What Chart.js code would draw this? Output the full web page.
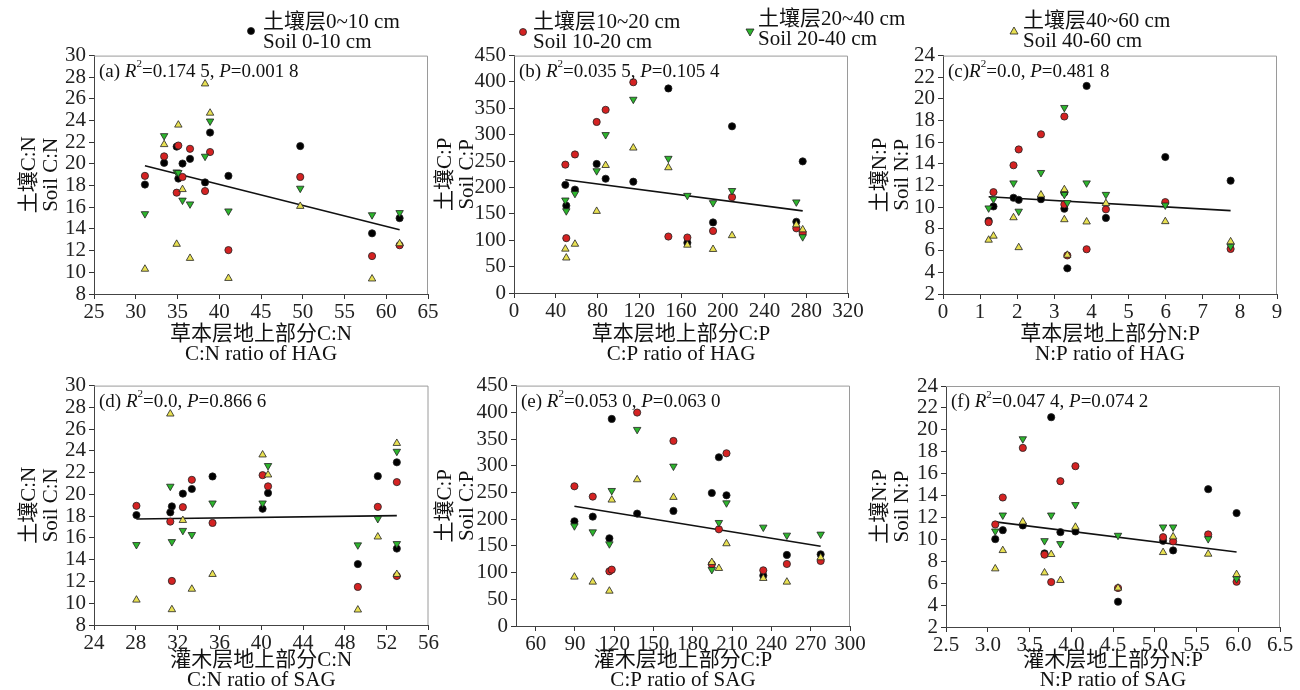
<!DOCTYPE html>
<html>
<head>
<meta charset="utf-8">
<script src="https://cdn.jsdelivr.net/npm/chart.js@4"></script>
<style>
  body { margin: 0; background: #fff; }
  #fig { position: relative; width: 1300px; height: 690px; background: #fff; overflow: hidden; }
  #fig canvas { position: absolute; }
  .leg { position: absolute; font: 21px/20px 'Liberation Serif', 'Noto Sans CJK SC', serif; color: #111; white-space: nowrap; }
  .mk { position: absolute; }
</style>
</head>
<body>
<div id="fig">
  <canvas id="ca" width="440" height="328" style="left:0px;top:40px"></canvas>
  <canvas id="cb" width="440" height="328" style="left:430px;top:40px"></canvas>
  <canvas id="cc" width="440" height="328" style="left:860px;top:40px"></canvas>
  <canvas id="cd" width="440" height="320" style="left:0px;top:370px"></canvas>
  <canvas id="ce" width="440" height="320" style="left:430px;top:370px"></canvas>
  <canvas id="cf" width="440" height="320" style="left:860px;top:370px"></canvas>

  <svg class="mk" style="left:246px;top:26px" width="10" height="10"><circle cx="5" cy="5" r="3.5" fill="#000" stroke="#222" stroke-width="0.8"/></svg>
  <div class="leg" style="left:263px;top:11px">土壤层0~10 cm<br>Soil 0-10 cm</div>
  <svg class="mk" style="left:518px;top:27px" width="10" height="10"><circle cx="5" cy="5" r="3.5" fill="#d42222" stroke="#222" stroke-width="0.8"/></svg>
  <div class="leg" style="left:533px;top:11px">土壤层10~20 cm<br>Soil 10-20 cm</div>
  <svg class="mk" style="left:745px;top:27px" width="10" height="10"><polygon points="1,2 9,2 5,9" fill="#2db52d" stroke="#222" stroke-width="0.8"/></svg>
  <div class="leg" style="left:758px;top:8px">土壤层20~40 cm<br>Soil 20-40 cm</div>
  <svg class="mk" style="left:1009px;top:26px" width="10" height="10"><polygon points="1,8 9,8 5,1" fill="#e8e052" stroke="#222" stroke-width="0.8"/></svg>
  <div class="leg" style="left:1023px;top:10px">土壤层40~60 cm<br>Soil 40-60 cm</div>
</div>
<script>
// (a) herb C:N vs soil C:N
const aX   = [31.1, 33.4, 34.9, 35.1, 35.6, 36.5, 38.3, 38.9, 41.1, 49.7, 58.3, 61.6];
const aS0  = [18.1, 20.1, 21.6, 18.65, 20.04, 20.47, 18.3, 22.9, 18.9, 21.65, 13.6, 15.0];
const aS10 = [18.9, 20.7, 17.35, 21.7, 18.8, 21.4, 17.5, 21.1, 12.05, 18.8, 11.5, 12.5];
const aS20 = [15.4, 22.6, 19.25, 19.2, 16.65, 16.3, 20.7, 23.95, 15.65, 17.75, 15.3, 15.5];
const aS40 = [10.3, 21.8, 12.6, 23.6, 17.65, 11.3, 27.4, 24.7, 9.45, 16.1, 9.4, 12.65];
const aFitX = [31.1, 61.6];
const aFitY = [19.83, 13.93];

// (b) herb C:P vs soil C:P
const bX   = [49.2, 50.1, 58.4, 79.2, 87.8, 114.3, 147.9, 166.1, 190.7, 208.9, 270.5, 276.6];
const bS0  = [205, 165.5, 196, 244.6, 216.6, 211, 387.7, 95.2, 133.8, 316, 135, 249.5];
const bS10 = [243.3, 104, 262.6, 324.2, 347.2, 399.5, 107, 105.2, 117.6, 181.7, 122.6, 113.9];
const bS20 = [176, 155.6, 188.5, 231.5, 300, 367, 255, 184.8, 171, 194, 172.4, 106.4];
const bS40 = [83.4, 66.6, 92.7, 155, 242, 275, 237.7, 90.9, 82.8, 108.9, 129.4, 120];
const bFitX = [49.2, 276.6];
const bFitY = [214.7, 155.6];

// (c) herb N:P vs soil N:P
const cX   = [1.23, 1.36, 1.9, 2.04, 2.64, 3.27, 3.27, 3.35, 3.87, 4.39, 5.99, 7.75];
const cS0  = [8.75, 10.08, 10.88, 10.69, 10.75, 11.36, 9.87, 4.37, 21.2, 9.02, 14.64, 12.46];
const cS10 = [8.63, 11.4, 13.88, 15.34, 16.74, 18.38, 10.27, 5.56, 6.13, 9.81, 10.48, 6.16];
const cS20 = [9.93, 10.75, 12.24, 9.63, 13.2, 19.2, 11.18, 10.42, 12.24, 11.18, 10.2, 6.4];
const cS40 = [6.98, 7.35, 9.05, 6.29, 11.15, 11.64, 8.87, 5.59, 8.66, 10.36, 8.69, 6.83];
const cFitX = [1.23, 7.75];
const cFitY = [10.97, 9.69];

// (d) shrub C:N vs soil C:N
const dX   = [28.06, 31.3, 31.45, 32.5, 33.36, 35.34, 40.13, 40.65, 49.24, 51.15, 52.97, 52.97];
const dS0  = [18.1, 18.35, 18.9, 20.07, 20.5, 21.65, 18.68, 20.13, 13.6, 21.68, 22.95, 15.02];
const dS10 = [18.95, 17.5, 12.05, 18.83, 21.34, 17.38, 21.77, 20.74, 11.5, 18.86, 21.13, 12.5];
const dS20 = [15.38, 20.74, 15.65, 16.68, 16.3, 19.2, 19.2, 22.64, 15.35, 17.77, 23.95, 15.47];
const dS40 = [10.3, 27.4, 9.42, 17.62, 11.3, 12.66, 23.64, 21.8, 9.39, 16.1, 24.7, 12.66];
const dFitX = [28.06, 52.97];
const dFitY = [17.74, 18.05];

// (e) shrub C:P vs soil C:P
const eX   = [89.6, 103.6, 116.3, 118.1, 137.5, 165.2, 194.5, 199.9, 205.7, 233.8, 251.8, 277.6];
const eS0  = [196, 204.7, 164.2, 387.6, 210.4, 215.4, 249, 315.9, 244.7, 94.3, 133, 134.2];
const eS10 = [261.5, 242.2, 102.4, 105.5, 399.5, 346.4, 115.5, 181, 323.3, 104.2, 116.1, 121.7];
const eS20 = [187.3, 176, 153.6, 253.4, 367.7, 299, 105.5, 193.5, 230.3, 184.8, 169.8, 171.7];
const eS40 = [91.8, 82.4, 65.5, 236, 274, 241, 119.2, 108, 154.2, 89.3, 82.4, 128];
const eFitX = [89.6, 277.6];
const eFitY = [224, 149.2];
const eXTicks = [60, 90, 120, 150, 180, 210, 240, 270, 300];

// (f) shrub N:P vs soil N:P
const fX   = [3.09, 3.18, 3.42, 3.68, 3.76, 3.87, 4.05, 4.56, 5.1, 5.22, 5.64, 5.98];
const fS0  = [10.02, 10.84, 11.27, 8.72, 21.15, 10.66, 10.72, 4.31, 9.87, 8.99, 14.58, 12.4];
const fS10 = [11.36, 13.82, 18.35, 8.6, 6.1, 15.31, 16.68, 5.56, 10.2, 9.81, 10.45, 6.13];
const fS20 = [10.75, 12.21, 19.17, 9.87, 12.21, 9.6, 13.16, 10.36, 11.12, 11.12, 10.05, 6.4];
const fS40 = [7.32, 8.99, 11.6, 6.95, 8.63, 6.26, 11.12, 5.56, 8.81, 10.24, 8.66, 6.8];
const fFitX = [3.09, 5.98];
const fFitY = [11.6, 8.84];

const FONT = "'Liberation Serif', 'Noto Sans CJK SC', serif";

function pts(xs, ys) {
  return xs.map((x, i) => ({ x: x, y: ys[i] }));
}

// gray frame on top and right side
const framePlugin = {
  id: 'frame',
  beforeDatasetsDraw(chart) {
    const a = chart.chartArea, ctx = chart.ctx;
    ctx.save();
    ctx.strokeStyle = '#9a9a9a';
    ctx.lineWidth = 1;
    ctx.beginPath();
    ctx.moveTo(a.left, a.top + 0.5);
    ctx.lineTo(a.right - 0.5, a.top + 0.5);
    ctx.lineTo(a.right - 0.5, a.bottom);
    ctx.stroke();
    ctx.restore();
  }
};

// "(a) R²=..., P=..." text in the corner
const notePlugin = {
  id: 'note',
  afterDatasetsDraw(chart, args, opts) {
    if (!opts.tag) return;
    const ctx = chart.ctx;
    let x = chart.chartArea.left + 5;
    const y = chart.chartArea.top + 16;
    const parts = [
      [opts.tag, 'normal', 19, 0],
      ['R', 'italic', 19, 0],
      ['2', 'normal', 11, -7],
      ['=' + opts.r2 + ', ', 'normal', 19, 0],
      ['P', 'italic', 19, 0],
      ['=' + opts.p, 'normal', 19, 0]
    ];
    ctx.save();
    ctx.fillStyle = '#111';
    ctx.textBaseline = 'middle';
    ctx.textAlign = 'left';
    parts.forEach(pt => {
      ctx.font = pt[1] + ' ' + pt[2] + 'px ' + FONT;
      ctx.fillText(pt[0], x, y + pt[3]);
      x += ctx.measureText(pt[0]).width;
    });
    ctx.restore();
  }
};

function makeChart(id, p) {
  const mark = (data, style, rot, color, r, ord) => ({
    data: data,
    pointStyle: style,
    rotation: rot,
    pointRadius: r,
    pointBackgroundColor: color,
    pointBorderColor: '#222',
    pointBorderWidth: 0.8,
    showLine: false,
    order: ord
  });
  const tickFont = { family: FONT, size: 21 };
  new Chart(document.getElementById(id), {
    type: 'scatter',
    data: {
      datasets: [
        {
          type: 'line',
          data: pts(p.fitX, p.fitY),
          borderColor: '#111',
          borderWidth: 1.6,
          pointRadius: 0,
          fill: false,
          order: 5
        },
        mark(pts(p.x, p.s0), 'circle', 0, '#000', 3.6, 4),
        mark(pts(p.x, p.s10), 'circle', 0, '#d42222', 3.6, 3),
        mark(pts(p.x, p.s20), 'triangle', 180, '#2db52d', 4.3, 2),
        mark(pts(p.x, p.s40), 'triangle', 0, '#e8e052', 4.3, 1)
      ]
    },
    options: {
      responsive: false,
      animation: false,
      devicePixelRatio: 1,
      events: [],
      layout: { padding: { top: p.padTop, right: p.padRight, left: 0, bottom: 0 } },
      plugins: {
        legend: { display: false },
        tooltip: { enabled: false },
        note: { tag: p.tag, r2: p.r2, p: p.p }
      },
      scales: {
        x: {
          type: 'linear',
          min: p.xMin, max: p.xMax,
          ticks: {
            stepSize: p.xStep, autoSkip: false, maxRotation: 0,
            font: tickFont, color: '#222', padding: 1,
            callback: p.xFmt || (v => v)
          },
          afterBuildTicks: p.xTicks ? (s => { s.ticks = p.xTicks.map(v => ({ value: v })); }) : undefined,
          grid: { drawOnChartArea: false, drawTicks: true, tickLength: 5, color: '#333' },
          border: { color: '#444', width: 1 },
          title: {
            display: true, text: p.xTitle, color: '#111',
            font: { family: FONT, size: 21, lineHeight: 0.95 },
            padding: { top: 0, bottom: p.xTitlePad }
          },
          afterFit: s => { s.height = p.xH; }
        },
        y: {
          type: 'linear',
          min: p.yMin, max: p.yMax,
          ticks: { stepSize: p.yStep, autoSkip: false, font: tickFont, color: '#222', padding: 3 },
          grid: { drawOnChartArea: false, drawTicks: true, tickLength: 5, color: '#333' },
          border: { color: '#444', width: 1 },
          title: {
            display: true, text: p.yTitle, color: '#111',
            font: { family: FONT, size: 21, lineHeight: 1.05 },
            padding: { top: p.yTitlePad, bottom: 0 }
          },
          afterFit: s => { s.width = p.yW; }
        }
      }
    },
    plugins: [framePlugin, notePlugin]
  });
}

makeChart('ca', {
  x: aX, s0: aS0, s10: aS10, s20: aS20, s40: aS40, fitX: aFitX, fitY: aFitY,
  xMin: 25, xMax: 65, xStep: 5, yMin: 8, yMax: 30, yStep: 2,
  xTitle: ['草本层地上部分C:N', 'C:N ratio of HAG'], yTitle: ['土壤C:N', 'Soil C:N'],
  tag: '(a) ', r2: '0.174 5', p: '0.001 8',
  padTop: 12, padRight: 12, yW: 94, xH: 74, xTitlePad: 4, yTitlePad: 18
});
makeChart('cb', {
  x: bX, s0: bS0, s10: bS10, s20: bS20, s40: bS40, fitX: bFitX, fitY: bFitY,
  xMin: 0, xMax: 320, xStep: 40, yMin: 0, yMax: 450, yStep: 50,
  xTitle: ['草本层地上部分C:P', 'C:P ratio of HAG'], yTitle: ['土壤C:P', 'Soil C:P'],
  tag: '(b) ', r2: '0.035 5', p: '0.105 4',
  padTop: 12, padRight: 22, yW: 84, xH: 75, xTitlePad: 4, yTitlePad: 4
});
makeChart('cc', {
  x: cX, s0: cS0, s10: cS10, s20: cS20, s40: cS40, fitX: cFitX, fitY: cFitY,
  xMin: 0, xMax: 9, xStep: 1, yMin: 2, yMax: 24, yStep: 2,
  xTitle: ['草本层地上部分N:P', 'N:P ratio of HAG'], yTitle: ['土壤N:P', 'Soil N:P'],
  tag: '(c)', r2: '0.0', p: '0.481 8',
  padTop: 13, padRight: 23, yW: 83, xH: 74, xTitlePad: 4, yTitlePad: 9
});
makeChart('cd', {
  x: dX, s0: dS0, s10: dS10, s20: dS20, s40: dS40, fitX: dFitX, fitY: dFitY,
  xMin: 24, xMax: 56, xStep: 4, yMin: 8, yMax: 30, yStep: 2,
  xTitle: ['灌木层地上部分C:N', 'C:N ratio of SAG'], yTitle: ['土壤C:N', 'Soil C:N'],
  tag: '(d) ', r2: '0.0', p: '0.866 6',
  padTop: 13, padRight: 11, yW: 94, xH: 65, xTitlePad: 0, yTitlePad: 18
});
makeChart('ce', {
  x: eX, s0: eS0, s10: eS10, s20: eS20, s40: eS40, fitX: eFitX, fitY: eFitY,
  xMin: 45, xMax: 300, xStep: 30, xTicks: eXTicks, yMin: 0, yMax: 450, yStep: 50,
  xTitle: ['灌木层地上部分C:P', 'C:P ratio of SAG'], yTitle: ['土壤C:P', 'Soil C:P'],
  tag: '(e) ', r2: '0.053 0', p: '0.063 0',
  padTop: 15, padRight: 20, yW: 86, xH: 64, xTitlePad: 0, yTitlePad: 4
});
makeChart('cf', {
  x: fX, s0: fS0, s10: fS10, s20: fS20, s40: fS40, fitX: fFitX, fitY: fFitY,
  xMin: 2.5, xMax: 6.5, xStep: 0.5, xFmt: v => v.toFixed(1), yMin: 2, yMax: 24, yStep: 2,
  xTitle: ['灌木层地上部分N:P', 'N:P ratio of SAG'], yTitle: ['土壤N:P', 'Soil N:P'],
  tag: '(f) ', r2: '0.047 4', p: '0.074 2',
  padTop: 16, padRight: 20, yW: 86, xH: 63, xTitlePad: 0, yTitlePad: 9
});
</script>
</body>
</html>
